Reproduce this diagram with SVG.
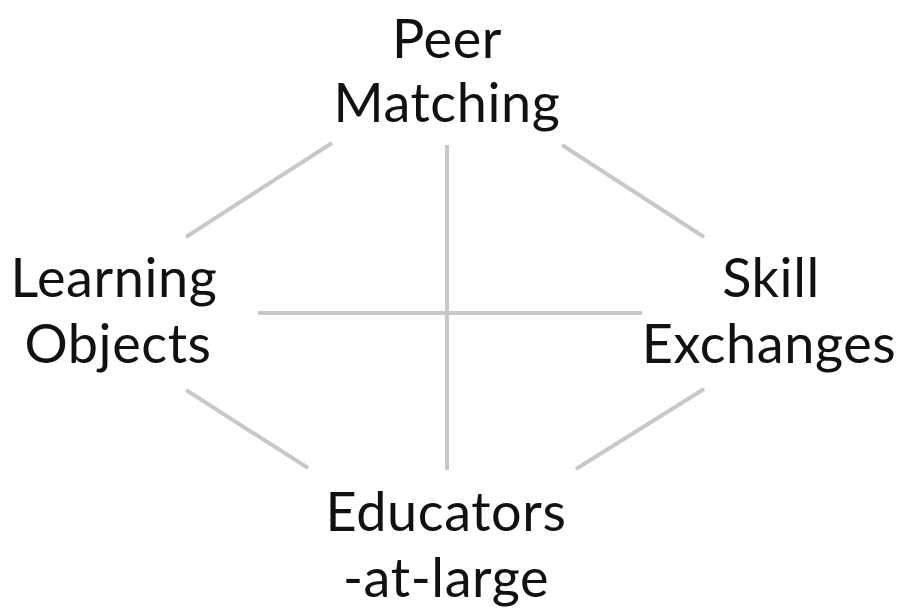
<svg xmlns="http://www.w3.org/2000/svg" width="902" height="613" viewBox="0 0 902 613">
<style>
.lbl{font-family:Lato,"Open Sans","Liberation Sans",sans-serif;font-size:54px;fill:#111;text-anchor:middle;letter-spacing:0.6px}
.ln{stroke:#c8c8c8;stroke-width:4;fill:none}
</style>
<rect width="902" height="613" fill="#fff"/>
<g id="connectors">
<line class="ln" x1="186" y1="237" x2="332" y2="143"/>
<line class="ln" x1="562" y1="145" x2="704" y2="237"/>
<line class="ln" x1="186" y1="390" x2="308" y2="468"/>
<line class="ln" x1="576" y1="469" x2="704" y2="389"/>
<line class="ln" x1="447" y1="145" x2="447" y2="470"/>
<line class="ln" x1="258" y1="313" x2="642" y2="313"/>
</g>
<g id="peer-matching"><text class="lbl" x="447" y="58">Peer</text><text class="lbl" x="447" y="122">Matching</text></g>
<g id="learning-objects"><text class="lbl" x="114" y="297">Learning</text><text class="lbl" x="118" y="363">Objects</text></g>
<g id="skill-exchanges"><text class="lbl" x="771" y="297">Skill</text><text class="lbl" x="769" y="363">Exchanges</text></g>
<g id="educators-at-large"><text class="lbl" x="446" y="531">Educators</text><text class="lbl" x="446" y="597">-at-large</text></g>
</svg>
